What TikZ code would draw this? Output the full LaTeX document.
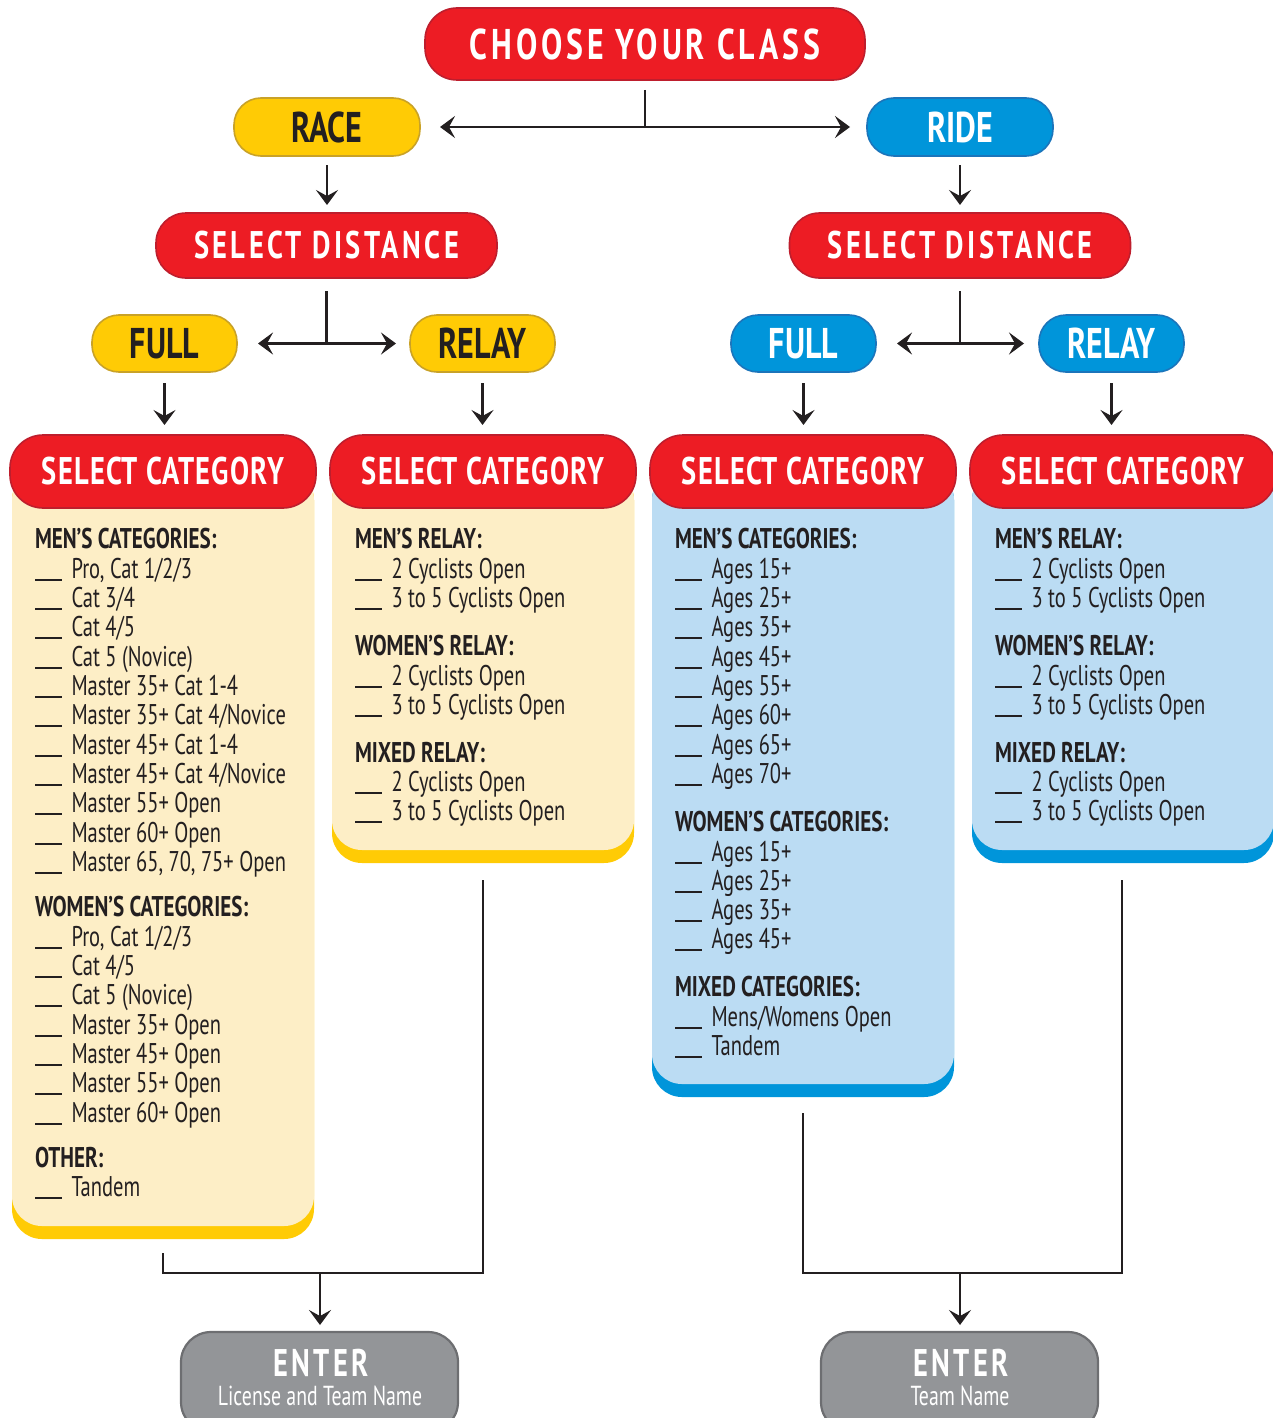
\documentclass[tikz,border=0pt]{standalone}
\usepackage{fontspec}
\setmainfont{PT Sans}[FakeStretch=0.72, BoldFeatures={FakeStretch=0.74}]
\newfontfamily\wideA{PT Sans}[FakeStretch=0.74, LetterSpace=9]
\newfontfamily\wideB{PT Sans}[FakeStretch=0.74, LetterSpace=3]
\newfontfamily\narrowB{PT Sans}[FakeStretch=0.745]
\usetikzlibrary{arrows.meta,calc}
\definecolor{cred}{HTML}{ED1C24}
\definecolor{credb}{HTML}{BE1E2D}
\definecolor{cyel}{HTML}{FFCB05}
\definecolor{cyelb}{HTML}{C9A227}
\definecolor{cblue}{HTML}{0095DA}
\definecolor{cblueb}{HTML}{1B75BB}
\definecolor{cpy}{HTML}{FDEEC6}
\definecolor{cpb}{HTML}{BBDCF3}
\definecolor{cgray}{HTML}{939598}
\definecolor{cgrayb}{HTML}{6D6E71}
\definecolor{cink}{HTML}{231F20}
\newcommand\fTitle{\wideA\bfseries\fontsize{43}{43}\selectfont}
\newcommand\fSel{\wideA\bfseries\fontsize{38.5}{38.5}\selectfont}
\newcommand\fCat{\wideB\bfseries\fontsize{38.5}{38.5}\selectfont}
\newcommand\fChoice{\narrowB\bfseries\fontsize{43}{43}\selectfont}
\newcommand\blankln{\rule[-2.5pt]{27pt}{1.5pt}\hspace{9.5pt}}
\newcommand\hdl[4]{\node[hdtext] (#1) at (#2,#3) {#4};}
\newcommand\itl[4]{\node[ittext] (#1) at (#2,#3) {\blankln#4};}
\tikzset{
  pill/.style={rectangle, inner sep=0pt, outer sep=0pt, line width=1.6pt, rounded corners=#1},
  redpill/.style={pill=#1, fill=cred, draw=credb, text=white},
  yelpill/.style={pill=#1, fill=cyel, draw=cyelb, text=cink},
  bluepill/.style={pill=#1, fill=cblue, draw=cblueb, text=white},
  graypill/.style={pill=#1, fill=cgray, draw=cgrayb, line width=2.2pt},
  panel/.style={rectangle, inner sep=0pt, outer sep=0pt, rounded corners=30pt, minimum width=302pt},
  hdtext/.style={anchor=base west, inner sep=0pt, outer sep=0pt, text=cink, font=\bfseries\fontsize{28.5}{30}\selectfont},
  ittext/.style={anchor=base west, inner sep=0pt, outer sep=0pt, text=cink, font=\fontsize{28.5}{30}\selectfont},
  conn/.style={line width=2.7pt, draw=cink},
  arr/.style={conn, -{Stealth[length=15pt,width=22pt,inset=6pt]}},
}
\begin{document}
\begin{tikzpicture}[x=1pt,y=-1pt]
\useasboundingbox (0,0) rectangle (1272,1418);
% top level
\node[redpill=32pt, minimum width=440pt, minimum height=72pt] (title) at (645,44) {\fTitle CHOOSE YOUR CLASS};
\node[yelpill=27pt, minimum width=186pt, minimum height=58pt] (race) at (327,127) {\fChoice RACE};
\node[bluepill=27pt, minimum width=186pt, minimum height=58pt] (ride) at (960,127) {\fChoice RIDE};
\node[redpill=30pt, minimum width=341pt, minimum height=65pt] (sdL) at (326.5,245.5) {\fSel SELECT DISTANCE};
\node[redpill=30pt, minimum width=341pt, minimum height=65pt] (sdR) at (960,245.5) {\fSel SELECT DISTANCE};
\node[yelpill=27pt, minimum width=145pt, minimum height=57pt] (fullL) at (164.5,343.5) {\fChoice FULL};
\node[yelpill=27pt, minimum width=145pt, minimum height=57pt] (relayL) at (482.5,343.5) {\fChoice RELAY};
\node[bluepill=27pt, minimum width=145pt, minimum height=57pt] (fullR) at (803.5,343.5) {\fChoice FULL};
\node[bluepill=27pt, minimum width=145pt, minimum height=57pt] (relayR) at (1111.5,343.5) {\fChoice RELAY};
% panels
\node[panel, fill=cyel, minimum height=769pt] (strip1) at (163,854.5) {};
\node[panel, fill=cpy, minimum height=756pt] (panel1) at (163,848) {};
\node[panel, fill=cyel, minimum height=393pt] (strip2) at (483,666.5) {};
\node[panel, fill=cpy, minimum height=380pt] (panel2) at (483,660) {};
\node[panel, fill=cblue, minimum height=627pt] (strip3) at (803,783.5) {};
\node[panel, fill=cpb, minimum height=614pt] (panel3) at (803,777) {};
\node[panel, fill=cblue, minimum height=393pt] (strip4) at (1123,666.5) {};
\node[panel, fill=cpb, minimum height=380pt] (panel4) at (1123,660) {};
\node[redpill=33pt, minimum width=306pt, minimum height=73pt] (hdr1) at (163,471.5) {\fCat SELECT CATEGORY};
\node[redpill=33pt, minimum width=306pt, minimum height=73pt] (hdr2) at (483,471.5) {\fCat SELECT CATEGORY};
\node[redpill=33pt, minimum width=306pt, minimum height=73pt] (hdr3) at (803,471.5) {\fCat SELECT CATEGORY};
\node[redpill=33pt, minimum width=306pt, minimum height=73pt] (hdr4) at (1123,471.5) {\fCat SELECT CATEGORY};
% panel 1 text
\hdl{a0}{35}{548}{MEN’S CATEGORIES:}
\itl{a1}{35}{578}{Pro, Cat 1/2/3}
\itl{a2}{35}{607}{Cat 3/4}
\itl{a3}{35}{636}{Cat 4/5}
\itl{a4}{35}{666}{Cat 5 (Novice)}
\itl{a5}{35}{695}{Master 35+ Cat 1-4}
\itl{a6}{35}{724}{Master 35+ Cat 4/Novice}
\itl{a7}{35}{754}{Master 45+ Cat 1-4}
\itl{a8}{35}{783}{Master 45+ Cat 4/Novice}
\itl{a9}{35}{812}{Master 55+ Open}
\itl{a10}{35}{842}{Master 60+ Open}
\itl{a11}{35}{871}{Master 65, 70, 75+ Open}
\hdl{b0}{35}{916}{WOMEN’S CATEGORIES:}
\itl{b1}{35}{946}{Pro, Cat 1/2/3}
\itl{b2}{35}{975}{Cat 4/5}
\itl{b3}{35}{1004}{Cat 5 (Novice)}
\itl{b4}{35}{1034}{Master 35+ Open}
\itl{b5}{35}{1063}{Master 45+ Open}
\itl{b6}{35}{1092}{Master 55+ Open}
\itl{b7}{35}{1122}{Master 60+ Open}
\hdl{c0}{35}{1167}{OTHER:}
\itl{c1}{35}{1196}{Tandem}
% panel 2 text
\hdl{d0}{355}{548}{MEN’S RELAY:}
\itl{d1}{355}{578}{2 Cyclists Open}
\itl{d2}{355}{607}{3 to 5 Cyclists Open}
\hdl{d3}{355}{655}{WOMEN’S RELAY:}
\itl{d4}{355}{685}{2 Cyclists Open}
\itl{d5}{355}{714}{3 to 5 Cyclists Open}
\hdl{d6}{355}{762}{MIXED RELAY:}
\itl{d7}{355}{791}{2 Cyclists Open}
\itl{d8}{355}{820}{3 to 5 Cyclists Open}
% panel 3 text
\hdl{e0}{675}{548}{MEN’S CATEGORIES:}
\itl{e1}{675}{578}{Ages 15+}
\itl{e2}{675}{607}{Ages 25+}
\itl{e3}{675}{636}{Ages 35+}
\itl{e4}{675}{666}{Ages 45+}
\itl{e5}{675}{695}{Ages 55+}
\itl{e6}{675}{724}{Ages 60+}
\itl{e7}{675}{754}{Ages 65+}
\itl{e8}{675}{783}{Ages 70+}
\hdl{f0}{675}{831}{WOMEN’S CATEGORIES:}
\itl{f1}{675}{861}{Ages 15+}
\itl{f2}{675}{890}{Ages 25+}
\itl{f3}{675}{919}{Ages 35+}
\itl{f4}{675}{948}{Ages 45+}
\hdl{g0}{675}{996}{MIXED CATEGORIES:}
\itl{g1}{675}{1026}{Mens/Womens Open}
\itl{g2}{675}{1055}{Tandem}
% panel 4 text
\hdl{h0}{995}{548}{MEN’S RELAY:}
\itl{h1}{995}{578}{2 Cyclists Open}
\itl{h2}{995}{607}{3 to 5 Cyclists Open}
\hdl{h3}{995}{655}{WOMEN’S RELAY:}
\itl{h4}{995}{685}{2 Cyclists Open}
\itl{h5}{995}{714}{3 to 5 Cyclists Open}
\hdl{h6}{995}{762}{MIXED RELAY:}
\itl{h7}{995}{791}{2 Cyclists Open}
\itl{h8}{995}{820}{3 to 5 Cyclists Open}
% enter boxes
\node[graypill=30pt, minimum width=277pt, minimum height=100pt] (enterL) at (319.5,1382) {};
\node[graypill=30pt, minimum width=277pt, minimum height=100pt] (enterR) at (959.5,1382) {};
\node[anchor=base, inner sep=0pt, text=white] (enterLt) at (321,1376) {\fSel ENTER};
\node[anchor=base, inner sep=0pt, text=white, font=\fontsize{27.5}{27.5}\selectfont] (enterLs) at (320,1405) {License and Team Name};
\node[anchor=base, inner sep=0pt, text=white] (enterRt) at (961,1376) {\fSel ENTER};
\node[anchor=base, inner sep=0pt, text=white, font=\fontsize{27.5}{27.5}\selectfont] (enterRs) at (960,1405) {Team Name};
% connectors
\coordinate (j0) at (title.south |- race.center);
\draw[conn, shorten <=10pt] (title.south) -- (j0);
\draw[arr, shorten >=20pt] (j0) -- (race.east);
\draw[arr, shorten >=17pt] (j0) -- (ride.west);
\draw[arr, shorten <=9pt, shorten >=8pt] (race.south) -- (race.south |- sdL.north);
\draw[arr, shorten <=9pt, shorten >=8pt] (ride.south) -- (ride.south |- sdR.north);
\coordinate (jL) at (sdL.south |- fullL.center);
\draw[conn, shorten <=13pt] (sdL.south) -- (jL);
\draw[arr, shorten >=21pt] (jL) -- (fullL.east);
\draw[arr, shorten >=14pt] (jL) -- (relayL.west);
\coordinate (jR) at (sdR.south |- fullR.center);
\draw[conn, shorten <=13pt] (sdR.south) -- (jR);
\draw[arr, shorten >=21pt] (jR) -- (fullR.east);
\draw[arr, shorten >=15pt] (jR) -- (relayR.west);
\draw[arr, shorten <=11pt, shorten >=10pt] (fullL.south) -- (fullL.south |- hdr1.north);
\draw[arr, shorten <=11pt, shorten >=10pt] (relayL.south) -- (relayL.south |- hdr2.north);
\draw[arr, shorten <=11pt, shorten >=10pt] (fullR.south) -- (fullR.south |- hdr3.north);
\draw[arr, shorten <=11pt, shorten >=10pt] (relayR.south) -- (relayR.south |- hdr4.north);
\coordinate (kL) at (320,1273);
\coordinate (kR) at (960,1273);
\draw[conn, shorten <=14pt, shorten >=17pt] (strip1.south) |- (kL) -| (strip2.south);
\draw[conn, shorten <=16pt, shorten >=17pt] (strip3.south) |- (kR) -| ($(strip4.south)+(-1,0)$);
\draw[arr, shorten >=7pt] (kL) -- (kL |- enterL.north);
\draw[arr, shorten >=7pt] (kR) -- (kR |- enterR.north);
\end{tikzpicture}
\end{document}
